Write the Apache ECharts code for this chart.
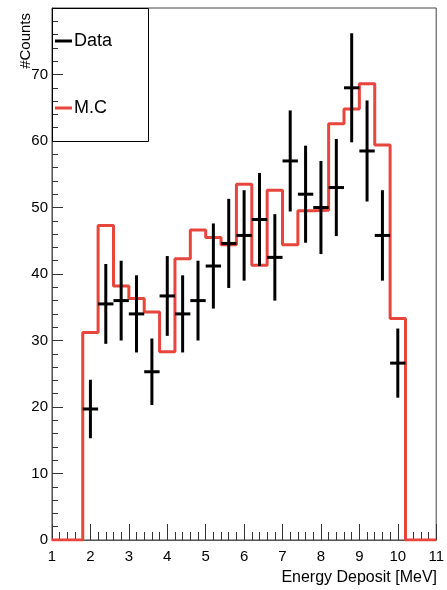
<!DOCTYPE html>
<html><head><meta charset="utf-8">
<script src="https://cdn.jsdelivr.net/npm/echarts@6/dist/echarts.min.js"></script>
<style>html,body{margin:0;padding:0;background:#fff}#c{width:447px;height:590px}</style>
</head><body><div id="c"></div>
<script>
// Bin centers (MeV) and bin width
const binCenters = [2.0, 2.4, 2.8, 3.2, 3.6, 4.0, 4.4, 4.8, 5.2, 5.6, 6.0, 6.4, 6.8, 7.2, 7.6, 8.0, 8.4, 8.8, 9.2, 9.6, 10.0];
const binWidth = 0.4;
// Measured data counts and their errors
const dataCounts = [19.7, 35.5, 36.0, 34.0, 25.3, 36.7, 34.0, 36.0, 41.2, 44.6, 45.8, 48.2, 42.5, 57.0, 52.0, 50.0, 53.0, 68.0, 58.5, 45.8, 26.6];
const dataErrors = [4.4, 6.0, 6.0, 5.8, 5.0, 6.0, 5.8, 6.0, 6.4, 6.7, 6.8, 7.0, 6.5, 7.6, 7.3, 7.0, 7.3, 8.2, 7.6, 6.8, 5.2];
// Monte Carlo histogram contents
const mcCounts = [31.2, 47.3, 38.2, 36.3, 34.3, 28.3, 42.3, 46.6, 45.5, 44.4, 53.5, 41.3, 52.6, 44.4, 49.5, 49.6, 62.6, 64.8, 68.6, 59.4, 33.3];
// Axis ranges
const xRange = [1, 11];
const yRange = [0, 80];

const RED = '#e8453c';
const FONT = 'Liberation Sans, Arial, Helvetica, sans-serif';

// Build step outline of MC histogram from bins
const mcLine = [[xRange[0], 0]];
binCenters.forEach((c, i) => {
  const lo = c - binWidth / 2, hi = c + binWidth / 2;
  if (i === 0) mcLine.push([lo, 0]);
  mcLine.push([lo, mcCounts[i]]);
  mcLine.push([hi, mcCounts[i]]);
  if (i === binCenters.length - 1) mcLine.push([hi, 0]);
});
mcLine.push([xRange[1], 0]);

const dataPts = binCenters.map((c, i) => [c, dataCounts[i], dataErrors[i]]);

const chart = echarts.init(document.getElementById('c'), null, {renderer: 'canvas'});
chart.setOption({
  animation: false,
  backgroundColor: '#fff',
  grid: {left: 52, right: 9, top: 8, bottom: 50, show: true, borderColor: '#444', borderWidth: 1, backgroundColor: 'transparent'},
  xAxis: {
    type: 'value', min: xRange[0], max: xRange[1], interval: 1,
    axisLine: {show: true, onZero: false, lineStyle: {color: '#555', width: 1}},
    axisTick: {show: true, inside: true, length: 16, lineStyle: {color: '#333', width: 1}},
    minorTick: {show: true, splitNumber: 5, length: 8, lineStyle: {color: '#333', width: 1}},
    splitLine: {show: false},
    axisLabel: {color: '#000', fontFamily: FONT, fontSize: 15, margin: 9, showMinLabel: true, showMaxLabel: true}
  },
  yAxis: {
    type: 'value', min: yRange[0], max: yRange[1], interval: 10,
    axisLine: {show: true, onZero: false, lineStyle: {color: '#555', width: 1}},
    axisTick: {show: true, inside: true, length: 11, lineStyle: {color: '#333', width: 1}},
    minorTick: {show: true, splitNumber: 5, length: 6, lineStyle: {color: '#333', width: 1}},
    splitLine: {show: false},
    axisLabel: {color: '#000', fontFamily: FONT, fontSize: 15, margin: 4, formatter: v => (v === yRange[1] ? '' : String(v))}
  },
  legend: {
    orient: 'vertical', left: 55, top: 32, padding: 0, itemGap: 49,
    itemWidth: 17, itemHeight: 3,
    textStyle: {color: '#000', fontFamily: FONT, fontSize: 18, padding: [0, 0, 0, -3]},
    data: [
      {name: 'Data', icon: 'rect', itemStyle: {color: '#000'}},
      {name: 'M.C', icon: 'rect', itemStyle: {color: RED}}
    ]
  },
  graphic: [
    {type: 'rect', shape: {x: 52.5, y: 8.5, width: 96, height: 133}, style: {fill: 'none', stroke: '#000', lineWidth: 1}, z: 10},
    {type: 'text', x: 26, y: 13, rotation: Math.PI / 2, style: {text: '#Counts', font: '15px ' + FONT, fill: '#000', align: 'right', verticalAlign: 'middle'}, z: 10},
    {type: 'text', x: 437, y: 578, style: {text: 'Energy Deposit [MeV]', font: '16px ' + FONT, fill: '#000', align: 'right', verticalAlign: 'middle'}, z: 10}
  ],
  series: [
    {
      name: 'M.C', type: 'line', data: mcLine, showSymbol: false, symbol: 'none',
      lineStyle: {color: RED, width: 3}, itemStyle: {color: RED}, z: 2, silent: true
    },
    {
      name: 'Data', type: 'custom', data: dataPts, z: 3, silent: true,
      itemStyle: {color: '#000'},
      encode: {x: 0, y: 1},
      renderItem: function (params, api) {
        const x = api.value(0), y = api.value(1), e = api.value(2);
        const pL = api.coord([x - binWidth / 2, y]);
        const pR = api.coord([x + binWidth / 2, y]);
        const pT = api.coord([x, y + e]);
        const pB = api.coord([x, y - e]);
        return {type: 'group', children: [
          {type: 'line', shape: {x1: pL[0], y1: pL[1], x2: pR[0], y2: pR[1]}, style: {stroke: '#000', lineWidth: 3}},
          {type: 'line', shape: {x1: pT[0], y1: pT[1], x2: pB[0], y2: pB[1]}, style: {stroke: '#000', lineWidth: 3}}
        ]};
      }
    }
  ]
});
</script></body></html>
